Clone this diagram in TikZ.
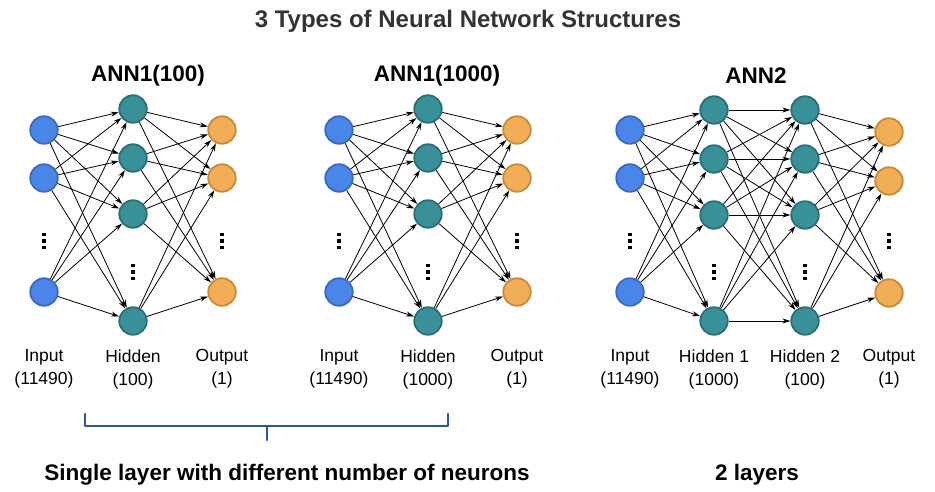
\documentclass[tikz,border=0pt]{standalone}
\usepackage{fontspec}
\setmainfont{Liberation Sans}
\usetikzlibrary{arrows.meta}
\definecolor{inpfill}{HTML}{4A86E8}
\definecolor{inpdraw}{HTML}{3A68C2}
\definecolor{hidfill}{HTML}{3A9099}
\definecolor{hiddraw}{HTML}{2A6E76}
\definecolor{outfill}{HTML}{F2AE56}
\definecolor{outdraw}{HTML}{C98A38}
\definecolor{brk}{HTML}{2F5597}
\definecolor{titlegray}{HTML}{333333}
\tikzset{
  neuron/.style={circle, minimum size=27.5pt, inner sep=0pt, line width=1.8pt},
  inp/.style={neuron, fill=inpfill, draw=inpdraw},
  hid/.style={neuron, fill=hidfill, draw=hiddraw},
  outn/.style={neuron, fill=outfill, draw=outdraw},
  conn/.style={-{Stealth[length=8pt,width=5pt]}, line width=0.8pt, black},
  lbl/.style={align=center, font=\fontsize{17.5}{23}\selectfont, inner sep=0pt},
  nettitle/.style={font=\bfseries\fontsize{22.5}{26}\selectfont, inner sep=0pt},
  bottomtitle/.style={font=\bfseries\fontsize{22.5}{26}\selectfont, inner sep=0pt},
  dotbox/.style={rectangle, fill=black, minimum size=3.6pt, inner sep=0pt},
  brace/.style={draw=brk, line width=2.4pt, line cap=round, line join=round}
}
\newcommand\vdotsat[3]{%
  \node[dotbox] (#1-a) at (#2,#3-6.5) {};
  \node[dotbox] (#1-b) at (#2,#3) {};
  \node[dotbox] (#1-c) at (#2,#3+6.5) {};}
% single hidden layer network: prefix, x input, x hidden, x output
\newcommand\annone[4]{%
  \foreach \y [count=\i] in {130,178,292} \node[inp] (#1-i\i) at (#2,\y) {};
  \foreach \y [count=\i] in {109,158,214,321} \node[hid] (#1-h\i) at (#3,\y) {};
  \foreach \y [count=\i] in {130,178,292} \node[outn] (#1-o\i) at (#4,\y) {};
  \foreach \i in {1,2,3} \foreach \j in {1,...,4} \draw[conn] (#1-i\i) -- (#1-h\j);
  \foreach \j in {1,...,4} \foreach \k in {1,2,3} \draw[conn] (#1-h\j) -- (#1-o\k);
  \vdotsat{#1-di}{#2}{241}
  \vdotsat{#1-dh}{#3}{272}
  \vdotsat{#1-do}{#4}{241}
}
\begin{document}
\begin{tikzpicture}[x=1pt,y=-1pt]
\useasboundingbox (0,0) rectangle (935,492);
\node[font=\bfseries\fontsize{24}{28}\selectfont, text=titlegray, inner sep=0pt] (title) at (468,21) {3 Types of Neural Network Structures};

% network 1
\node[nettitle] (t1) at (148,76) {ANN1(100)};
\annone{a}{44}{133}{222}
\node[lbl] (a-li) at (44,369) {Input\\(11490)};
\node[lbl] (a-lh) at (133,369) {Hidden\\(100)};
\node[lbl] (a-lo) at (222,369) {Output\\(1)};

% network 2
\node[nettitle] (t2) at (437,76) {ANN1(1000)};
\annone{b}{339}{428}{517}
\node[lbl] (b-li) at (339,369) {Input\\(11490)};
\node[lbl] (b-lh) at (428,369) {Hidden\\(1000)};
\node[lbl] (b-lo) at (517,369) {Output\\(1)};

% network 3
\node[nettitle] (t3) at (756,76) {ANN2};
\foreach \y [count=\i] in {130,178,292} \node[inp] (c-i\i) at (630,\y) {};
\foreach \y [count=\i] in {110,159,215,321} \node[hid] (c-h\i) at (714,\y) {};
\foreach \y [count=\i] in {110,159,215,321} \node[hid] (c-g\i) at (805,\y) {};
\foreach \y [count=\i] in {132,181,293} \node[outn] (c-o\i) at (889,\y) {};
\foreach \i in {1,2,3} \foreach \j in {1,...,4} \draw[conn] (c-i\i) -- (c-h\j);
\foreach \j in {1,...,4} \foreach \k in {1,...,4} \draw[conn] (c-h\j) -- (c-g\k);
\foreach \j in {1,...,4} \foreach \k in {1,2,3} \draw[conn] (c-g\j) -- (c-o\k);
\vdotsat{c-di}{630}{241}
\vdotsat{c-dh}{714}{272}
\vdotsat{c-dg}{805}{272}
\vdotsat{c-do}{889}{241}
\node[lbl] (c-li) at (630,369) {Input\\(11490)};
\node[lbl] (c-lh) at (714,369) {Hidden 1\\(1000)};
\node[lbl] (c-lg) at (805,369) {Hidden 2\\(100)};
\node[lbl] (c-lo) at (889,369) {Output\\(1)};

% bracket
\draw[brace] (85,414) -- (85,426) -- (448,426) -- (448,414);
\draw[brace] (267,426) -- (267,440);

\node[bottomtitle] (b1) at (287,475) {Single layer with different number of neurons};
\node[bottomtitle] (b2) at (757,475) {2 layers};
\end{tikzpicture}
\end{document}
